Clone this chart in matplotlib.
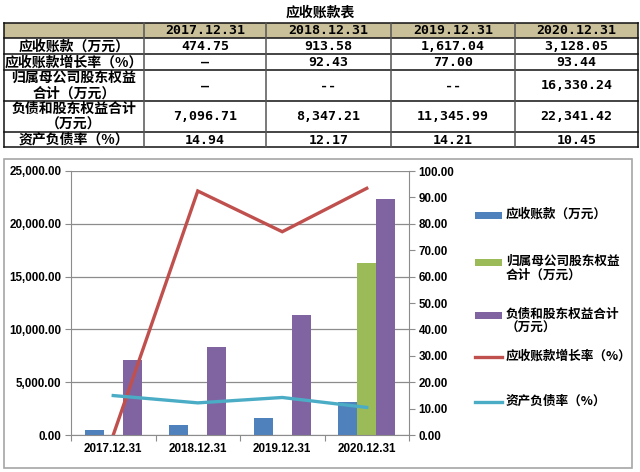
import numpy as np
import matplotlib
matplotlib.use("Agg")
import matplotlib.pyplot as plt
from matplotlib.ticker import FuncFormatter, FixedLocator
from matplotlib.patches import Rectangle
from matplotlib.lines import Line2D

plt.rcParams['font.family'] = ['Noto Sans CJK SC', 'DejaVu Sans']

# ---------------- data ----------------
categories = ["2017.12.31", "2018.12.31", "2019.12.31", "2020.12.31"]
receivables = [474.75, 913.58, 1617.04, 3128.05]             # 应收账款（万元）
parent_equity = [np.nan, np.nan, np.nan, 16330.24]           # 归属母公司股东权益合计（万元）
total_liab_equity = [7096.71, 8347.21, 11345.99, 22341.42]   # 负债和股东权益合计（万元）
growth_rate = [0.0, 92.43, 77.00, 93.44]                      # 应收账款增长率（%）
debt_ratio = [14.94, 12.17, 14.21, 10.45]                     # 资产负债率（%）

table_title = "应收账款表"
row_labels = ["应收账款（万元）", "应收账款增长率（%）", "归属母公司股东权益\n合计（万元）",
              "负债和股东权益合计\n（万元）", "资产负债率（%）"]
growth_text = ["–", "92.43", "77.00", "93.44"]
equity_text = ["—", "--", "--", "16,330.24"]

series_names = ["应收账款（万元）", "归属母公司股东权益\n合计（万元）", "负债和股东权益合计\n（万元）",
                "应收账款增长率（%）", "资产负债率（%）"]
colors = ["#4F81BD", "#9BBB59", "#8064A2", "#C0504D", "#4BACC6"]

W, H = 640, 472
fig = plt.figure(figsize=(W / 100, H / 100), dpi=100)

# overlay in pixel coords for table/frame/legend
ov = fig.add_axes([0, 0, 1, 1], zorder=0)
ov.set_xlim(0, W)
ov.set_ylim(H, 0)
ov.axis("off")

# ---------------- table ----------------
def fmt(v):
    return f"{v:,.2f}"

row_y = [22.7, 38.3, 54, 70, 100.7, 131.7, 147.3]
col_x = [4, 144, 266, 391, 515, 638]
ov.add_patch(Rectangle((col_x[0], row_y[0]), col_x[-1] - col_x[0], row_y[1] - row_y[0],
                       facecolor="#C9C09A", edgecolor="none"))
for y in row_y:
    ov.plot([col_x[0], col_x[-1]], [y, y], color="#111111", lw=1.1)
for x in col_x:
    ov.plot([x, x], [row_y[0], row_y[-1]], color="#555555" if x not in (col_x[0], col_x[-1]) else "#111111", lw=1.1)

ov.text(320, 13, table_title, ha="center", va="center", fontsize=10, fontweight="bold")

cells = [
    [fmt(v) for v in receivables],
    growth_text,
    equity_text,
    [fmt(v) for v in total_liab_equity],
    [f"{v:.2f}" for v in debt_ratio],
]
num_font = ['DejaVu Sans Mono', 'Noto Sans CJK SC']
for j, c in enumerate(categories):
    cx = (col_x[j + 1] + col_x[j + 2]) / 2
    ov.text(cx, (row_y[0] + row_y[1]) / 2 + 0.5, c, ha="center", va="center",
            fontsize=9.5, fontweight="bold", family=num_font)
for i, lab in enumerate(row_labels):
    cy = (row_y[i + 1] + row_y[i + 2]) / 2
    ov.text((col_x[0] + col_x[1]) / 2, cy + 0.5, lab, ha="center", va="center",
            fontsize=10, fontweight="bold", linespacing=1.2)
    for j in range(4):
        cx = (col_x[j + 1] + col_x[j + 2]) / 2
        ov.text(cx, cy + 0.5, cells[i][j], ha="center", va="center",
                fontsize=9.5, fontweight="bold", family=num_font)

# chart frame
ov.add_patch(Rectangle((4, 159), 628, 309, facecolor="none", edgecolor="#A6A6A6", lw=1.2))

# ---------------- chart ----------------
L, R, T, B = 71, 409, 171, 435
ax = fig.add_axes([L / W, (H - B) / H, (R - L) / W, (B - T) / H], zorder=1)
ax.patch.set_alpha(0)
x = np.arange(len(categories))
bw = 0.225
ax.bar(x - bw, receivables, width=bw, color=colors[0], zorder=2)
ax.bar(x, parent_equity, width=bw, color=colors[1], zorder=2)
ax.bar(x + bw, total_liab_equity, width=bw, color=colors[2], zorder=2)
ax.set_xlim(-0.5, len(categories) - 0.5)
ax.set_ylim(0, 25000)
ax.yaxis.set_major_locator(FixedLocator(np.arange(0, 25001, 5000)))
ax.yaxis.set_major_formatter(FuncFormatter(lambda v, p: f"{v:,.2f}"))
ax.grid(axis="y", color="#8C8C8C", lw=0.9, zorder=0)
ax.set_axisbelow(True)

ax.set_xticks(np.arange(-0.5, len(categories), 1.0))
ax.set_xticklabels([])
ax.set_xticks(x, minor=True)
ax.set_xticklabels(categories, minor=True)
ax.tick_params(axis="x", which="major", length=4.5, color="#8C8C8C", direction="out")
ax.tick_params(axis="x", which="minor", length=0, pad=6)
ax.tick_params(axis="y", length=4, color="#8C8C8C", pad=3)

lab_font = dict(family=['Liberation Sans', 'DejaVu Sans'], weight="bold", size=8.4)
for t in ax.get_yticklabels() + ax.get_xticklabels(minor=True):
    t.set_fontproperties(matplotlib.font_manager.FontProperties(**lab_font))

for s in ["top", "right"]:
    ax.spines[s].set_visible(False)
for s in ["left", "bottom"]:
    ax.spines[s].set_color("#8C8C8C")

ax2 = ax.twinx()
ax2.set_zorder(2)
ax2.plot(x, growth_rate, color=colors[3], lw=2.4, solid_joinstyle="miter")
ax2.plot(x, debt_ratio, color=colors[4], lw=2.4)
ax2.set_ylim(0, 100)
ax2.yaxis.set_major_locator(FixedLocator(np.arange(0, 101, 10)))
ax2.yaxis.set_major_formatter(FuncFormatter(lambda v, p: f"{v:.2f}"))
ax2.tick_params(axis="y", length=4, color="#8C8C8C", pad=3)
for t in ax2.get_yticklabels():
    t.set_fontproperties(matplotlib.font_manager.FontProperties(**lab_font))
for s in ["top", "left", "bottom"]:
    ax2.spines[s].set_visible(False)
ax2.spines["right"].set_color("#8C8C8C")

# ---------------- legend (manual, pixel coords) ----------------
leg_y = [215, 262, 315, 357, 402]
hx0, hx1, tx = 475, 502, 506
for i, (name, col, y) in enumerate(zip(series_names, colors, leg_y)):
    if i < 3:
        ov.add_patch(Rectangle((hx0, y - 3.5), hx1 - hx0, 7, facecolor=col, edgecolor="none"))
    else:
        ov.add_line(Line2D([hx0, hx1], [y, y], color=col, lw=2.4))
    ov.text(tx, y - 7.5, name, ha="left", va="top", fontsize=9.1, fontweight="bold",
            linespacing=1.15)

fig.savefig("out.png", dpi=100)
